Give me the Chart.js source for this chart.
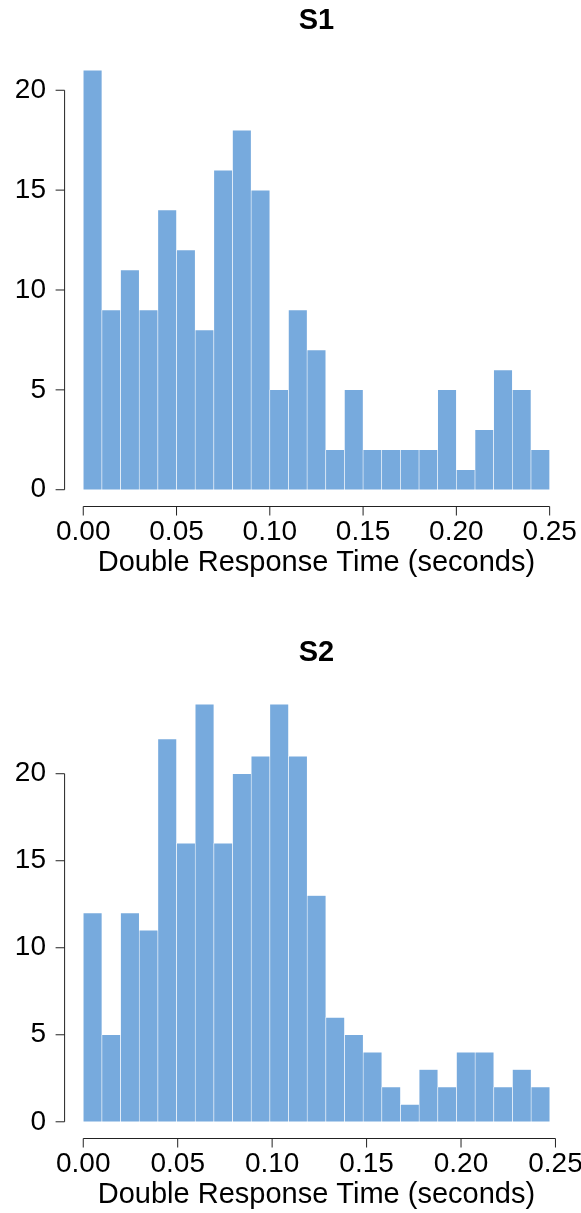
<!DOCTYPE html>
<html>
<head>
<meta charset="utf-8">
<script src="https://cdn.jsdelivr.net/npm/chart.js@4.4.1/dist/chart.umd.min.js"></script>
<style>
  html, body { margin: 0; padding: 0; background: #fff; }
  body { width: 581px; height: 1213px; position: relative; overflow: hidden; }
  canvas { position: absolute; left: 0; }
  #chartS1 { top: 0; }
  #chartS2 { top: 632px; }
</style>
</head>
<body>
<canvas id="chartS1" width="581" height="581"></canvas>
<canvas id="chartS2" width="581" height="581"></canvas>
<script>
// histogram counts per bin
const countsS1 = [21, 9, 11, 9, 14, 12, 8, 16, 18, 15, 5, 9, 7, 2, 5, 2, 2, 2, 2, 5, 1, 3, 6, 5, 2];
const countsS2 = [12, 5, 12, 11, 22, 16, 24, 16, 20, 21, 24, 21, 13, 6, 5, 4, 2, 1, 3, 2, 4, 4, 2, 3, 2];
// bin widths (seconds)
const binWidthS1 = 0.01;
const binWidthS2 = 0.00988;
// tick labels
const xTicks = [0, 0.05, 0.10, 0.15, 0.20, 0.25];
const yTicks = [0, 5, 10, 15, 20];
const xLabel = 'Double Response Time (seconds)';

const barColor = '#77AADD';
const fontFamily = '"Liberation Sans", Arial, Helvetica, sans-serif';
Chart.defaults.font.family = fontFamily;
Chart.defaults.color = '#000';

// R style axes: line only from first to last tick, ticks pointing out
const rAxes = {
    id: 'rAxes',
    afterDraw(chart) {
        const ctx = chart.ctx;
        const area = chart.chartArea;
        const x = chart.scales.x, y = chart.scales.y;
        ctx.save();
        ctx.strokeStyle = '#222';
        ctx.lineWidth = 1;
        ctx.beginPath();
        const xs = x.ticks.map(t => x.getPixelForValue(t.value));
        ctx.moveTo(xs[0], area.bottom);
        ctx.lineTo(xs[xs.length - 1], area.bottom);
        xs.forEach(px => { ctx.moveTo(px, area.bottom); ctx.lineTo(px, area.bottom + 9); });
        const ys = y.ticks.map(t => y.getPixelForValue(t.value));
        ctx.moveTo(area.left, ys[0]);
        ctx.lineTo(area.left, ys[ys.length - 1]);
        ys.forEach(py => { ctx.moveTo(area.left, py); ctx.lineTo(area.left - 9, py); });
        ctx.stroke();
        ctx.restore();
    }
};

function makeHist(id, title, counts, binWidth, xMin, xMax, titleGap) {
    const data = counts.map((c, i) => ({ x: (i + 0.5) * binWidth, y: c }));
    const yMax = Math.max(...counts);
    const pad = yMax * 0.04;
    return new Chart(document.getElementById(id), {
        type: 'bar',
        plugins: [rAxes],
        data: {
            datasets: [{
                data: data,
                backgroundColor: barColor,
                borderColor: '#ffffff',
                borderWidth: 0.6,
                borderSkipped: false,
                barPercentage: 1,
                categoryPercentage: 1
            }]
        },
        options: {
            responsive: false,
            animation: false,
            devicePixelRatio: 1,
            layout: { padding: { left: 0, right: 12.7, top: 0, bottom: 0 } },
            plugins: {
                legend: { display: false },
                tooltip: { enabled: false },
                title: {
                    display: true,
                    text: title,
                    fullSize: false,
                    color: '#000',
                    font: { size: 29, weight: 'bold' },
                    padding: { top: 3.5, bottom: titleGap }
                }
            },
            scales: {
                x: {
                    type: 'linear',
                    offset: false,
                    min: xMin,
                    max: xMax,
                    grid: { display: false, drawTicks: false, tickLength: 0 },
                    border: { display: false },
                    afterBuildTicks: s => { s.ticks = xTicks.map(v => ({ value: v })); },
                    afterFit: s => { s.height = 74.5; s.paddingLeft = 0; s.paddingRight = 0; },
                    ticks: {
                        padding: 8.5,
                        maxRotation: 0,
                        autoSkip: false,
                        font: { size: 28 },
                        callback: v => v.toFixed(2)
                    },
                    title: {
                        display: true,
                        text: xLabel,
                        font: { size: 29 },
                        padding: { top: 0, bottom: 0.6 }
                    }
                },
                y: {
                    min: -pad,
                    max: yMax + pad,
                    grid: { display: false, drawTicks: false, tickLength: 0 },
                    border: { display: false },
                    afterBuildTicks: s => { s.ticks = yTicks.map(v => ({ value: v })); },
                    afterFit: s => { s.width = 64.6; s.paddingTop = 0; s.paddingBottom = 0; },
                    ticks: {
                        padding: 18.6,
                        font: { size: 28 }
                    }
                }
            }
        }
    });
}

makeHist('chartS1', 'S1', countsS1, binWidthS1, -0.01, 0.26, 15.2);
makeHist('chartS2', 'S2', countsS2, binWidthS2, -0.00988, 0.2568, 17.1);
</script>
</body>
</html>
